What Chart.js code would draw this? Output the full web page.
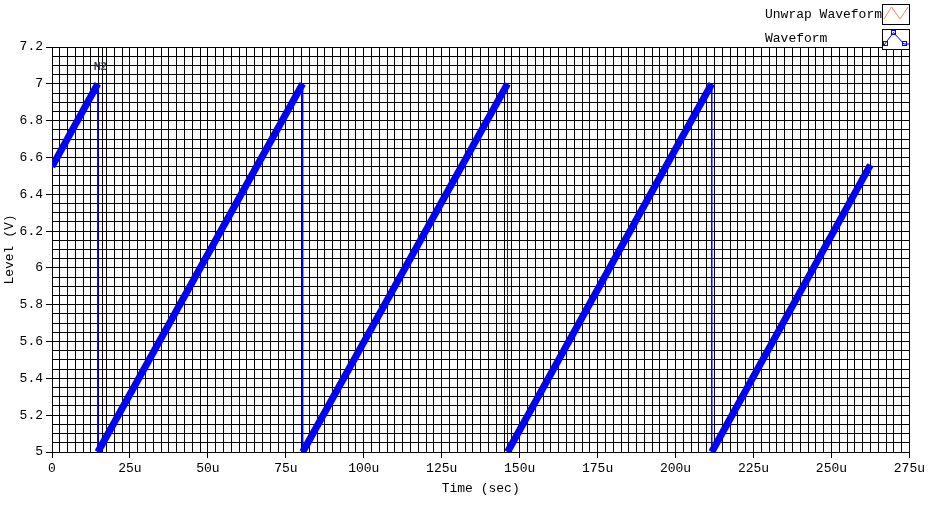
<!DOCTYPE html>
<html>
<head>
<meta charset="utf-8">
<script src="https://cdn.jsdelivr.net/npm/chart.js@4/dist/chart.umd.min.js"></script>
<style>
  html, body { margin: 0; padding: 0; background: #fff; }
  #wrap { width: 928px; height: 516px; }
</style>
</head>
<body>
<div id="wrap"><canvas id="chart" width="928" height="516"></canvas></div>
<script>
// time in microseconds, level in volts
const waveTime  = [0, 14.7, 14.7, 80.4, 80.4, 146.1, 146.1, 211.6, 211.6, 262.5];
const waveLevel = [6.55, 7.0, 5.0, 7.0, 5.0, 7.0, 5.0, 7.0, 5.0, 6.56];
const unwrapTime = [];
const unwrapLevel = [];
const cursorTime = [16.2, 16.2];
const cursorLevel = [5.0, 7.2];
const cursorName = "M2";

const xTickLabels = ["0", "25u", "50u", "75u", "100u", "125u", "150u", "175u", "200u", "225u", "250u", "275u"];
const yTickLabels = ["5", "5.2", "5.4", "5.6", "5.8", "6", "6.2", "6.4", "6.6", "6.8", "7", "7.2"];

const toPoints = (xs, ys) => xs.map((x, i) => ({ x, y: ys[i] }));

function xLabel(v) {
  const i = v / 25;
  return Math.abs(i - Math.round(i)) < 1e-6 ? xTickLabels[Math.round(i)] : "";
}
function yLabel(v) {
  const i = (v - 5) / 0.2;
  return Math.abs(i - Math.round(i)) < 1e-6 ? yTickLabels[Math.round(i)] : "";
}

Chart.defaults.font.family = "'Liberation Mono', 'DejaVu Sans Mono', monospace";
Chart.defaults.font.size = 13;
Chart.defaults.color = "#000";

// legend boxes + cursor name, drawn like the instrument panel
const panelExtras = {
  id: "panelExtras",
  afterDraw(chart) {
    const ctx = chart.ctx;
    const xs = chart.scales.x, ys = chart.scales.y;
    ctx.save();

    // cursor label
    ctx.font = "bold 11px 'DejaVu Sans Mono', monospace";
    ctx.fillStyle = "#3a3a50";
    ctx.textAlign = "center";
    ctx.textBaseline = "middle";
    ctx.fillText(cursorName, xs.getPixelForValue(cursorTime[0]) - 2, ys.getPixelForValue(7.09));

    // legend
    ctx.font = "13px 'Liberation Mono', monospace";
    ctx.textAlign = "left";
    ctx.fillStyle = "#000";
    ctx.fillText(chart.data.datasets[0].label, 765, 15);
    ctx.fillText(chart.data.datasets[1].label, 765, 39);

    ctx.lineWidth = 1;
    ctx.strokeStyle = "#000";
    ctx.fillStyle = "#fff";
    ctx.fillRect(882, 4, 27, 20);
    ctx.strokeRect(882.5, 4.5, 27, 20);
    ctx.fillRect(882, 29, 27, 20);
    ctx.strokeRect(882.5, 29.5, 27, 20);

    ctx.strokeStyle = "#f08868";
    ctx.beginPath();
    ctx.moveTo(884, 19); ctx.lineTo(891.5, 7); ctx.lineTo(900, 19); ctx.lineTo(908, 7);
    ctx.stroke();

    ctx.strokeStyle = "#0000ff";
    ctx.beginPath();
    ctx.moveTo(884, 45); ctx.lineTo(893.5, 32.5); ctx.lineTo(904, 44); ctx.lineTo(909, 44);
    ctx.stroke();
    [[885.5, 43.5], [893.5, 32.5], [904.5, 43.5]].forEach(([px, py]) => {
      ctx.strokeRect(px - 2, py - 2, 4, 4);
    });
    ctx.restore();
  }
};

new Chart(document.getElementById("chart"), {
  type: "line",
  data: {
    datasets: [
      {
        label: "Unwrap Waveform",
        data: toPoints(unwrapTime, unwrapLevel),
        borderColor: "#f08868",
        pointRadius: 0
      },
      {
        label: "Waveform",
        data: toPoints(waveTime, waveLevel),
        borderColor: "#0000ff",
        borderWidth: 7,
        pointRadius: 0,
        tension: 0,
        segment: {
          borderWidth: c => (c.p0.parsed.x === c.p1.parsed.x ? 1 : 7)
        }
      },
      {
        label: "cursor",
        data: toPoints(cursorTime, cursorLevel),
        borderColor: "#000",
        borderWidth: 1,
        pointRadius: 0
      }
    ]
  },
  options: {
    responsive: false,
    animation: false,
    devicePixelRatio: 1,
    layout: { padding: { top: 47, right: 18, left: 0, bottom: 0 } },
    plugins: {
      legend: { display: false },
      tooltip: { enabled: false }
    },
    scales: {
      x: {
        type: "linear",
        min: 0,
        max: 275,
        afterFit: s => { s.height = 64; },
        ticks: {
          stepSize: 2.5,
          autoSkip: false,
          maxRotation: 0,
          padding: 3,
          callback: v => xLabel(v)
        },
        grid: {
          color: "#000",
          lineWidth: 1,
          tickLength: 6,
          tickColor: c => (xLabel(c.tick.value) ? "#000" : "rgba(0,0,0,0)")
        },
        border: { color: "#000" },
        title: {
          display: true,
          text: "Time (sec)",
          padding: { top: 0, bottom: 20 }
        }
      },
      y: {
        min: 5,
        max: 7.2,
        afterFit: s => { s.width = 52; },
        ticks: {
          stepSize: 0.05,
          autoSkip: false,
          padding: 3,
          callback: v => yLabel(v)
        },
        grid: {
          color: "#000",
          lineWidth: 1,
          tickLength: 6,
          tickColor: c => (yLabel(c.tick.value) ? "#000" : "rgba(0,0,0,0)")
        },
        border: { color: "#000" },
        title: {
          display: true,
          text: "Level (V)",
          padding: { top: 2, bottom: 0 }
        }
      }
    }
  },
  plugins: [panelExtras]
});
</script>
</body>
</html>
